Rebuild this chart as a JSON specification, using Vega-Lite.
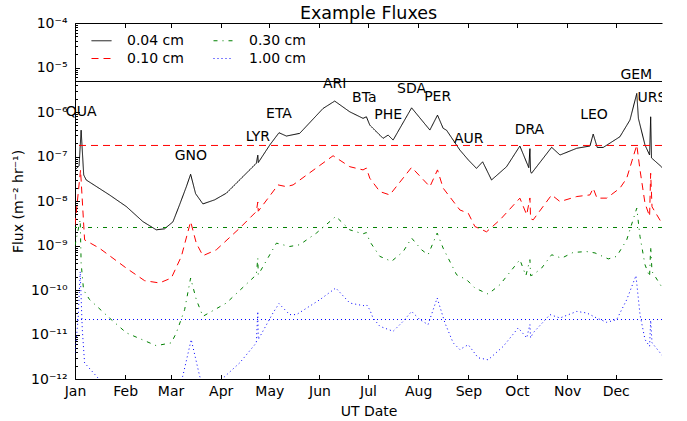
{
"$schema":"https://vega.github.io/schema/vega-lite/v6.json",
"width":587,"height":356,
"autosize":{"type":"none"},
"padding":{"left":75,"top":23,"right":25,"bottom":42},
"title":{"text":"Example Fluxes","fontSize":17.5,"fontWeight":"normal","font":"DejaVu Sans","color":"black","baseline":"bottom","offset":4,"dy":28},
"config":{"font":"DejaVu Sans","view":{"stroke":null},
 "axis":{"grid":false,"domainColor":"black","tickColor":"black","labelColor":"black","titleColor":"black","labelFontSize":14,"titleFontSize":14,"titleFontWeight":"normal","labelFont":"DejaVu Sans","titleFont":"DejaVu Sans","domainWidth":1,"tickWidth":1},
 "legend":{"orient":"none","legendX":16,"legendY":7,"columns":2,"symbolType":"stroke","symbolSize":400,"symbolStrokeWidth":1,"labelFontSize":14,"labelFont":"DejaVu Sans","labelColor":"black","labelOffset":15,"columnPadding":27,"rowPadding":-5,"padding":0}},
"datasets":{
"avg":[
{"s":"0.04 cm","a":4.85e-6},
{"s":"0.10 cm","a":1.77e-7},
{"s":"0.30 cm","a":2.54e-9},
{"s":"1.00 cm","a":2.17e-11}
],
"flux":[
{"t":"2017-01-01T00:00Z","s":"0.04 cm","f":5.0e-8},
{"t":"2017-01-03T12:00Z","s":"0.04 cm","f":6.1e-8},
{"t":"2017-01-04T19:00Z","s":"0.04 cm","f":3.9e-7},
{"t":"2017-01-06T09:00Z","s":"0.04 cm","f":3.85e-8},
{"t":"2017-01-07T22:00Z","s":"0.04 cm","f":2.97e-8},
{"t":"2017-01-22T07:00Z","s":"0.04 cm","f":1.37e-8},
{"t":"2017-02-01T17:00Z","s":"0.04 cm","f":7.5e-9},
{"t":"2017-02-11T22:00Z","s":"0.04 cm","f":3.45e-9},
{"t":"2017-02-20T05:00Z","s":"0.04 cm","f":2.25e-9},
{"t":"2017-02-25T07:00Z","s":"0.04 cm","f":2.37e-9},
{"t":"2017-03-02T12:00Z","s":"0.04 cm","f":3.4e-9},
{"t":"2017-03-06T14:00Z","s":"0.04 cm","f":8.2e-9},
{"t":"2017-03-10T19:00Z","s":"0.04 cm","f":2.1e-8},
{"t":"2017-03-13T10:00Z","s":"0.04 cm","f":3.99e-8},
{"t":"2017-03-16T12:00Z","s":"0.04 cm","f":1.46e-8},
{"t":"2017-03-21T00:00Z","s":"0.04 cm","f":8.6e-9},
{"t":"2017-03-28T05:00Z","s":"0.04 cm","f":1.06e-8},
{"t":"2017-04-04T12:00Z","s":"0.04 cm","f":1.5e-8},
{"t":"2017-04-23T00:00Z","s":"0.04 cm","f":7.05e-8},
{"t":"2017-04-23T22:00Z","s":"0.04 cm","f":1.07e-7},
{"t":"2017-04-24T05:00Z","s":"0.04 cm","f":7.3e-8},
{"t":"2017-05-01T07:00Z","s":"0.04 cm","f":1.81e-7},
{"t":"2017-05-07T00:00Z","s":"0.04 cm","f":3.42e-7},
{"t":"2017-05-11T14:00Z","s":"0.04 cm","f":2.88e-7},
{"t":"2017-05-19T19:00Z","s":"0.04 cm","f":3.31e-7},
{"t":"2017-06-03T05:00Z","s":"0.04 cm","f":1.2e-6},
{"t":"2017-06-10T10:00Z","s":"0.04 cm","f":1.76e-6},
{"t":"2017-06-19T17:00Z","s":"0.04 cm","f":1.01e-6},
{"t":"2017-06-27T22:00Z","s":"0.04 cm","f":7.2e-7},
{"t":"2017-06-30T00:00Z","s":"0.04 cm","f":7.8e-7},
{"t":"2017-07-02T02:00Z","s":"0.04 cm","f":5.08e-7},
{"t":"2017-07-10T07:00Z","s":"0.04 cm","f":2.56e-7},
{"t":"2017-07-13T10:00Z","s":"0.04 cm","f":3.03e-7},
{"t":"2017-07-16T12:00Z","s":"0.04 cm","f":2.34e-7},
{"t":"2017-07-27T22:00Z","s":"0.04 cm","f":1.24e-6},
{"t":"2017-08-08T05:00Z","s":"0.04 cm","f":3.93e-7},
{"t":"2017-08-12T22:00Z","s":"0.04 cm","f":8.5e-7},
{"t":"2017-08-16T10:00Z","s":"0.04 cm","f":4.29e-7},
{"t":"2017-08-18T12:00Z","s":"0.04 cm","f":3.9e-7},
{"t":"2017-08-26T17:00Z","s":"0.04 cm","f":1.4e-7},
{"t":"2017-08-31T22:00Z","s":"0.04 cm","f":8.4e-8},
{"t":"2017-09-06T00:00Z","s":"0.04 cm","f":5.4e-8},
{"t":"2017-09-09T19:00Z","s":"0.04 cm","f":7.6e-8},
{"t":"2017-09-15T07:00Z","s":"0.04 cm","f":2.97e-8},
{"t":"2017-09-24T14:00Z","s":"0.04 cm","f":5.9e-8},
{"t":"2017-10-02T19:00Z","s":"0.04 cm","f":1.72e-7},
{"t":"2017-10-08T07:00Z","s":"0.04 cm","f":5.6e-8},
{"t":"2017-10-09T00:00Z","s":"0.04 cm","f":1.5e-7},
{"t":"2017-10-09T10:00Z","s":"0.04 cm","f":4.6e-8},
{"t":"2017-10-10T00:00Z","s":"0.04 cm","f":4.2e-8},
{"t":"2017-10-22T10:00Z","s":"0.04 cm","f":1.61e-7},
{"t":"2017-10-27T14:00Z","s":"0.04 cm","f":1.08e-7},
{"t":"2017-11-06T22:00Z","s":"0.04 cm","f":1.53e-7},
{"t":"2017-11-15T02:00Z","s":"0.04 cm","f":1.72e-7},
{"t":"2017-11-17T02:00Z","s":"0.04 cm","f":3.19e-7},
{"t":"2017-11-19T14:00Z","s":"0.04 cm","f":1.6e-7},
{"t":"2017-11-23T07:00Z","s":"0.04 cm","f":1.6e-7},
{"t":"2017-12-03T14:00Z","s":"0.04 cm","f":2.78e-7},
{"t":"2017-12-09T19:00Z","s":"0.04 cm","f":6.6e-7},
{"t":"2017-12-14T00:00Z","s":"0.04 cm","f":2.61e-6},
{"t":"2017-12-15T00:00Z","s":"0.04 cm","f":7.2e-7},
{"t":"2017-12-19T02:00Z","s":"0.04 cm","f":1.81e-7},
{"t":"2017-12-21T22:00Z","s":"0.04 cm","f":1.08e-7},
{"t":"2017-12-22T14:00Z","s":"0.04 cm","f":7.8e-7},
{"t":"2017-12-23T02:00Z","s":"0.04 cm","f":9.3e-8},
{"t":"2017-12-29T10:00Z","s":"0.04 cm","f":5.8e-8},
{"t":"2017-12-31T00:00Z","s":"0.04 cm","f":5.0e-8},

{"t":"2017-01-01T00:00Z","s":"0.10 cm","f":2.9e-9},
{"t":"2017-01-04T10:00Z","s":"0.10 cm","f":5.0e-8},
{"t":"2017-01-06T22:00Z","s":"0.10 cm","f":1.34e-9},
{"t":"2017-01-16T02:00Z","s":"0.10 cm","f":8.7e-10},
{"t":"2017-02-01T17:00Z","s":"0.10 cm","f":3.1e-10},
{"t":"2017-02-13T00:00Z","s":"0.10 cm","f":1.62e-10},
{"t":"2017-02-22T05:00Z","s":"0.10 cm","f":1.44e-10},
{"t":"2017-03-01T12:00Z","s":"0.10 cm","f":1.86e-10},
{"t":"2017-03-07T17:00Z","s":"0.10 cm","f":5.7e-10},
{"t":"2017-03-13T10:00Z","s":"0.10 cm","f":3.45e-9},
{"t":"2017-03-16T22:00Z","s":"0.10 cm","f":1.13e-9},
{"t":"2017-03-21T00:00Z","s":"0.10 cm","f":5.9e-10},
{"t":"2017-03-29T07:00Z","s":"0.10 cm","f":8.0e-10},
{"t":"2017-04-12T17:00Z","s":"0.10 cm","f":2.45e-9},
{"t":"2017-04-23T00:00Z","s":"0.10 cm","f":5.8e-9},
{"t":"2017-04-23T22:00Z","s":"0.10 cm","f":9.5e-9},
{"t":"2017-04-24T05:00Z","s":"0.10 cm","f":5.9e-9},
{"t":"2017-05-06T10:00Z","s":"0.10 cm","f":2.3e-8},
{"t":"2017-05-11T14:00Z","s":"0.10 cm","f":2.1e-8},
{"t":"2017-05-15T17:00Z","s":"0.10 cm","f":2.3e-8},
{"t":"2017-06-09T10:00Z","s":"0.10 cm","f":1.04e-7},
{"t":"2017-06-19T17:00Z","s":"0.10 cm","f":5.9e-8},
{"t":"2017-06-27T22:00Z","s":"0.10 cm","f":5.0e-8},
{"t":"2017-06-30T00:00Z","s":"0.10 cm","f":5.5e-8},
{"t":"2017-07-02T02:00Z","s":"0.10 cm","f":3.25e-8},
{"t":"2017-07-08T07:00Z","s":"0.10 cm","f":1.63e-8},
{"t":"2017-07-14T10:00Z","s":"0.10 cm","f":1.37e-8},
{"t":"2017-07-27T22:00Z","s":"0.10 cm","f":5.7e-8},
{"t":"2017-08-08T05:00Z","s":"0.10 cm","f":2.1e-8},
{"t":"2017-08-12T22:00Z","s":"0.10 cm","f":5.0e-8},
{"t":"2017-08-16T10:00Z","s":"0.10 cm","f":1.94e-8},
{"t":"2017-08-26T17:00Z","s":"0.10 cm","f":6.3e-9},
{"t":"2017-08-31T22:00Z","s":"0.10 cm","f":5.3e-9},
{"t":"2017-09-05T00:00Z","s":"0.10 cm","f":2.67e-9},
{"t":"2017-09-12T05:00Z","s":"0.10 cm","f":2.03e-9},
{"t":"2017-09-20T12:00Z","s":"0.10 cm","f":3.77e-9},
{"t":"2017-10-02T19:00Z","s":"0.10 cm","f":1.16e-8},
{"t":"2017-10-07T00:00Z","s":"0.10 cm","f":4.9e-9},
{"t":"2017-10-09T00:00Z","s":"0.10 cm","f":1.17e-8},
{"t":"2017-10-09T10:00Z","s":"0.10 cm","f":4.0e-9},
{"t":"2017-10-11T00:00Z","s":"0.10 cm","f":3.77e-9},
{"t":"2017-10-22T10:00Z","s":"0.10 cm","f":1.37e-8},
{"t":"2017-10-27T14:00Z","s":"0.10 cm","f":9.7e-9},
{"t":"2017-11-06T22:00Z","s":"0.10 cm","f":1.26e-8},
{"t":"2017-11-15T02:00Z","s":"0.10 cm","f":1.37e-8},
{"t":"2017-11-17T02:00Z","s":"0.10 cm","f":1.94e-8},
{"t":"2017-11-19T10:00Z","s":"0.10 cm","f":1.16e-8},
{"t":"2017-11-25T10:00Z","s":"0.10 cm","f":1.16e-8},
{"t":"2017-12-03T14:00Z","s":"0.10 cm","f":1.94e-8},
{"t":"2017-12-07T19:00Z","s":"0.10 cm","f":3.25e-8},
{"t":"2017-12-14T00:00Z","s":"0.10 cm","f":1.81e-7},
{"t":"2017-12-16T00:00Z","s":"0.10 cm","f":5.0e-8},
{"t":"2017-12-19T02:00Z","s":"0.10 cm","f":8.9e-9},
{"t":"2017-12-21T22:00Z","s":"0.10 cm","f":4.5e-9},
{"t":"2017-12-22T14:00Z","s":"0.10 cm","f":4.2e-8},
{"t":"2017-12-23T10:00Z","s":"0.10 cm","f":7.4e-9},
{"t":"2017-12-29T10:00Z","s":"0.10 cm","f":3.2e-9},
{"t":"2017-12-31T00:00Z","s":"0.10 cm","f":2.8e-9},

{"t":"2017-01-01T00:00Z","s":"0.30 cm","f":1.0e-9},
{"t":"2017-01-04T05:00Z","s":"0.30 cm","f":3.8e-9},
{"t":"2017-01-04T19:00Z","s":"0.30 cm","f":4.0e-10},
{"t":"2017-01-06T07:00Z","s":"0.30 cm","f":1.0e-10},
{"t":"2017-01-10T00:00Z","s":"0.30 cm","f":6.1e-11},
{"t":"2017-01-22T07:00Z","s":"0.30 cm","f":2.35e-11},
{"t":"2017-02-01T17:00Z","s":"0.30 cm","f":1.09e-11},
{"t":"2017-02-20T05:00Z","s":"0.30 cm","f":5.6e-12},
{"t":"2017-03-01T12:00Z","s":"0.30 cm","f":6.5e-12},
{"t":"2017-03-04T14:00Z","s":"0.30 cm","f":1.09e-11},
{"t":"2017-03-09T17:00Z","s":"0.30 cm","f":3.6e-11},
{"t":"2017-03-13T10:00Z","s":"0.30 cm","f":1.86e-10},
{"t":"2017-03-16T22:00Z","s":"0.30 cm","f":6.1e-11},
{"t":"2017-03-21T00:00Z","s":"0.30 cm","f":2.56e-11},
{"t":"2017-04-04T12:00Z","s":"0.30 cm","f":5.1e-11},
{"t":"2017-04-23T00:00Z","s":"0.30 cm","f":2.2e-10},
{"t":"2017-04-23T22:00Z","s":"0.30 cm","f":5.2e-10},
{"t":"2017-04-24T05:00Z","s":"0.30 cm","f":2.2e-10},
{"t":"2017-05-05T10:00Z","s":"0.30 cm","f":1.13e-9},
{"t":"2017-05-13T14:00Z","s":"0.30 cm","f":9.5e-10},
{"t":"2017-05-19T19:00Z","s":"0.30 cm","f":1.04e-9},
{"t":"2017-05-30T02:00Z","s":"0.30 cm","f":1.9e-9},
{"t":"2017-06-11T02:00Z","s":"0.30 cm","f":4.5e-9},
{"t":"2017-06-19T17:00Z","s":"0.30 cm","f":2.25e-9},
{"t":"2017-06-27T22:00Z","s":"0.30 cm","f":1.83e-9},
{"t":"2017-06-30T00:00Z","s":"0.30 cm","f":1.95e-9},
{"t":"2017-07-02T02:00Z","s":"0.30 cm","f":1.23e-9},
{"t":"2017-07-08T07:00Z","s":"0.30 cm","f":5.7e-10},
{"t":"2017-07-15T12:00Z","s":"0.30 cm","f":4.4e-10},
{"t":"2017-07-22T17:00Z","s":"0.30 cm","f":7.3e-10},
{"t":"2017-07-27T22:00Z","s":"0.30 cm","f":1.47e-9},
{"t":"2017-08-03T02:00Z","s":"0.30 cm","f":8.0e-10},
{"t":"2017-08-07T02:00Z","s":"0.30 cm","f":6.2e-10},
{"t":"2017-08-12T17:00Z","s":"0.30 cm","f":1.9e-9},
{"t":"2017-08-16T10:00Z","s":"0.30 cm","f":8.7e-10},
{"t":"2017-08-24T17:00Z","s":"0.30 cm","f":2.2e-10},
{"t":"2017-08-30T22:00Z","s":"0.30 cm","f":1.7e-10},
{"t":"2017-09-05T00:00Z","s":"0.30 cm","f":1.11e-10},
{"t":"2017-09-13T05:00Z","s":"0.30 cm","f":8.1e-11},
{"t":"2017-09-20T12:00Z","s":"0.30 cm","f":1.32e-10},
{"t":"2017-10-02T19:00Z","s":"0.30 cm","f":4.8e-10},
{"t":"2017-10-06T12:00Z","s":"0.30 cm","f":2.1e-10},
{"t":"2017-10-09T00:00Z","s":"0.30 cm","f":4.8e-10},
{"t":"2017-10-09T10:00Z","s":"0.30 cm","f":2.1e-10},
{"t":"2017-10-11T00:00Z","s":"0.30 cm","f":2.2e-10},
{"t":"2017-10-16T05:00Z","s":"0.30 cm","f":3.1e-10},
{"t":"2017-10-22T10:00Z","s":"0.30 cm","f":6.2e-10},
{"t":"2017-10-28T14:00Z","s":"0.30 cm","f":5.2e-10},
{"t":"2017-11-04T19:00Z","s":"0.30 cm","f":7.0e-10},
{"t":"2017-11-13T02:00Z","s":"0.30 cm","f":7.3e-10},
{"t":"2017-11-18T05:00Z","s":"0.30 cm","f":6.8e-10},
{"t":"2017-11-26T10:00Z","s":"0.30 cm","f":5.0e-10},
{"t":"2017-12-01T14:00Z","s":"0.30 cm","f":5.7e-10},
{"t":"2017-12-07T19:00Z","s":"0.30 cm","f":1.34e-9},
{"t":"2017-12-14T00:00Z","s":"0.30 cm","f":6.9e-9},
{"t":"2017-12-16T00:00Z","s":"0.30 cm","f":1.59e-9},
{"t":"2017-12-19T02:00Z","s":"0.30 cm","f":3.7e-10},
{"t":"2017-12-21T22:00Z","s":"0.30 cm","f":2.0e-10},
{"t":"2017-12-22T14:00Z","s":"0.30 cm","f":9.5e-10},
{"t":"2017-12-23T10:00Z","s":"0.30 cm","f":2.6e-10},
{"t":"2017-12-29T10:00Z","s":"0.30 cm","f":1.17e-10},
{"t":"2017-12-31T00:00Z","s":"0.30 cm","f":1.0e-10},

{"t":"2017-01-01T00:00Z","s":"1.00 cm","f":3.9e-12},
{"t":"2017-01-02T22:00Z","s":"1.00 cm","f":2.2e-11},
{"t":"2017-01-04T05:00Z","s":"1.00 cm","f":2.6e-10},
{"t":"2017-01-05T12:00Z","s":"1.00 cm","f":1.3e-11},
{"t":"2017-01-06T22:00Z","s":"1.00 cm","f":2.3e-12},
{"t":"2017-01-16T02:00Z","s":"1.00 cm","f":9.7e-13},
{"t":"2017-01-26T00:00Z","s":"1.00 cm","f":4e-13},
{"t":"2017-02-15T00:00Z","s":"1.00 cm","f":2.5e-13},
{"t":"2017-03-04T00:00Z","s":"1.00 cm","f":5e-13},
{"t":"2017-03-08T14:00Z","s":"1.00 cm","f":1.16e-12},
{"t":"2017-03-13T19:00Z","s":"1.00 cm","f":7.7e-12},
{"t":"2017-03-19T00:00Z","s":"1.00 cm","f":1.16e-12},
{"t":"2017-03-22T00:00Z","s":"1.00 cm","f":6e-13},
{"t":"2017-03-30T00:00Z","s":"1.00 cm","f":6e-13},
{"t":"2017-04-01T10:00Z","s":"1.00 cm","f":9.7e-13},
{"t":"2017-04-12T17:00Z","s":"1.00 cm","f":2.3e-12},
{"t":"2017-04-23T00:00Z","s":"1.00 cm","f":6.5e-12},
{"t":"2017-04-23T22:00Z","s":"1.00 cm","f":3.3e-11},
{"t":"2017-04-24T05:00Z","s":"1.00 cm","f":7.7e-12},
{"t":"2017-05-03T07:00Z","s":"1.00 cm","f":3.05e-11},
{"t":"2017-05-07T00:00Z","s":"1.00 cm","f":4.93e-11},
{"t":"2017-05-13T14:00Z","s":"1.00 cm","f":2.8e-11},
{"t":"2017-05-17T19:00Z","s":"1.00 cm","f":2.8e-11},
{"t":"2017-06-01T05:00Z","s":"1.00 cm","f":6.05e-11},
{"t":"2017-06-11T02:00Z","s":"1.00 cm","f":1.11e-10},
{"t":"2017-06-19T17:00Z","s":"1.00 cm","f":5.1e-11},
{"t":"2017-06-28T00:00Z","s":"1.00 cm","f":4.45e-11},
{"t":"2017-06-30T00:00Z","s":"1.00 cm","f":4.7e-11},
{"t":"2017-07-02T02:00Z","s":"1.00 cm","f":3.6e-11},
{"t":"2017-07-04T02:00Z","s":"1.00 cm","f":2.35e-11},
{"t":"2017-07-08T07:00Z","s":"1.00 cm","f":1.53e-11},
{"t":"2017-07-16T12:00Z","s":"1.00 cm","f":1.18e-11},
{"t":"2017-07-22T17:00Z","s":"1.00 cm","f":1.98e-11},
{"t":"2017-07-27T22:00Z","s":"1.00 cm","f":3.3e-11},
{"t":"2017-08-02T00:00Z","s":"1.00 cm","f":2.16e-11},
{"t":"2017-08-07T02:00Z","s":"1.00 cm","f":1.67e-11},
{"t":"2017-08-12T17:00Z","s":"1.00 cm","f":6.6e-11},
{"t":"2017-08-17T12:00Z","s":"1.00 cm","f":1.82e-11},
{"t":"2017-08-22T14:00Z","s":"1.00 cm","f":6.5e-12},
{"t":"2017-08-26T17:00Z","s":"1.00 cm","f":4.6e-12},
{"t":"2017-08-31T22:00Z","s":"1.00 cm","f":5.9e-12},
{"t":"2017-09-07T00:00Z","s":"1.00 cm","f":3.0e-12},
{"t":"2017-09-13T05:00Z","s":"1.00 cm","f":2.7e-12},
{"t":"2017-09-22T12:00Z","s":"1.00 cm","f":5.4e-12},
{"t":"2017-10-01T19:00Z","s":"1.00 cm","f":1.41e-11},
{"t":"2017-10-07T00:00Z","s":"1.00 cm","f":8.4e-12},
{"t":"2017-10-09T00:00Z","s":"1.00 cm","f":1.67e-11},
{"t":"2017-10-09T10:00Z","s":"1.00 cm","f":8.4e-12},
{"t":"2017-10-11T00:00Z","s":"1.00 cm","f":1.09e-11},
{"t":"2017-10-21T10:00Z","s":"1.00 cm","f":2.8e-11},
{"t":"2017-10-27T14:00Z","s":"1.00 cm","f":2.35e-11},
{"t":"2017-11-06T22:00Z","s":"1.00 cm","f":3.3e-11},
{"t":"2017-11-13T02:00Z","s":"1.00 cm","f":3.05e-11},
{"t":"2017-11-19T05:00Z","s":"1.00 cm","f":2.35e-11},
{"t":"2017-11-25T10:00Z","s":"1.00 cm","f":1.88e-11},
{"t":"2017-12-01T14:00Z","s":"1.00 cm","f":2.16e-11},
{"t":"2017-12-07T19:00Z","s":"1.00 cm","f":6.05e-11},
{"t":"2017-12-13T12:00Z","s":"1.00 cm","f":2.1e-10},
{"t":"2017-12-16T00:00Z","s":"1.00 cm","f":2.8e-11},
{"t":"2017-12-19T02:00Z","s":"1.00 cm","f":7.7e-12},
{"t":"2017-12-21T22:00Z","s":"1.00 cm","f":5.4e-12},
{"t":"2017-12-22T14:00Z","s":"1.00 cm","f":2.08e-11},
{"t":"2017-12-23T10:00Z","s":"1.00 cm","f":6.5e-12},
{"t":"2017-12-29T10:00Z","s":"1.00 cm","f":3.5e-12},
{"t":"2017-12-31T00:00Z","s":"1.00 cm","f":3.0e-12}
],
"labels":[
{"n":"QUA","t":"2017-01-04T19:00Z","f":1.0e-6},
{"n":"GNO","t":"2017-03-13T14:00Z","f":1.03e-7},
{"n":"LYR","t":"2017-04-23T22:00Z","f":2.8e-7},
{"n":"ETA","t":"2017-05-07T00:00Z","f":9.0e-7},
{"n":"ARI","t":"2017-06-10T10:00Z","f":4.35e-6},
{"n":"BTa","t":"2017-06-28T17:00Z","f":2.02e-6},
{"n":"PHE","t":"2017-07-13T10:00Z","f":8.5e-7},
{"n":"SDA","t":"2017-07-27T22:00Z","f":3.26e-6},
{"n":"PER","t":"2017-08-13T00:00Z","f":2.19e-6},
{"n":"AUR","t":"2017-09-01T05:00Z","f":2.48e-7},
{"n":"DRA","t":"2017-10-08T17:00Z","f":3.93e-7},
{"n":"LEO","t":"2017-11-17T14:00Z","f":8.5e-7},
{"n":"GEM","t":"2017-12-13T17:00Z","f":6.7e-6}
],
"urs":[
{"n":"URS","t":"2017-12-23T10:00Z","f":2.02e-6}
]
},
"resolve":{"axis":{"x":"independent","y":"independent"}},
"layer":[
{
"data":{"name":"flux"},
"mark":{"type":"line","strokeWidth":1,"clip":true},
"encoding":{
 "x":{"field":"t","type":"temporal","scale":{"type":"utc","domain":[{"year":2017,"month":1,"date":1,"utc":true},{"year":2017,"month":12,"date":29,"hours":14,"utc":true}]},
  "axis":{"orient":"bottom","tickCount":{"interval":"month","step":1},"format":"%b","tickSize":-4.5,"labelPadding":9.5,"labelFlush":false,"labelOverlap":false,"title":"UT Date","titlePadding":6}},
 "y":{"field":"f","type":"quantitative","scale":{"type":"log","domain":[1e-12,1e-4],"nice":false},
  "axis":{"orient":"left","values":[1e-12,1e-11,1e-10,1e-9,1e-8,1e-7,1e-6,1e-5,1e-4],"tickSize":-4.5,"labelPadding":12.5,
   "labelExpr":"['10⁻⁴','10⁻⁵','10⁻⁶','10⁻⁷','10⁻⁸','10⁻⁹','10⁻¹⁰','10⁻¹¹','10⁻¹²'][round(-log(datum.value)/LN10)-4]",
   "title":"Flux (m⁻² hr⁻¹)","titlePadding":5}},
 "color":{"field":"s","type":"nominal","title":null,"scale":{"domain":["0.04 cm","0.10 cm","0.30 cm","1.00 cm"],"range":["#000000","#ff0000","#008000","#0000ff"]}},
 "strokeDash":{"field":"s","type":"nominal","title":null,"scale":{"domain":["0.04 cm","0.10 cm","0.30 cm","1.00 cm"],"range":[[1,0],[7,5],[4,5,1,5],[1,3]]}}
}
},
{
"data":{"name":"flux"},
"mark":{"type":"line","opacity":0},
"encoding":{
 "x":{"field":"t","type":"temporal","axis":{"orient":"top","tickCount":{"interval":"month","step":1},"labels":false,"tickSize":-4.5,"title":null}},
 "y":{"field":"f","type":"quantitative",
  "axis":{"orient":"left","values":[2e-12,3e-12,4e-12,5e-12,6e-12,7e-12,8e-12,9e-12,2e-11,3e-11,4e-11,5e-11,6e-11,7e-11,8e-11,9e-11,2e-10,3e-10,4e-10,5e-10,6e-10,7e-10,8e-10,9e-10,2e-9,3e-9,4e-9,5e-9,6e-9,7e-9,8e-9,9e-9,2e-8,3e-8,4e-8,5e-8,6e-8,7e-8,8e-8,9e-8,2e-7,3e-7,4e-7,5e-7,6e-7,7e-7,8e-7,9e-7,2e-6,3e-6,4e-6,5e-6,6e-6,7e-6,8e-6,9e-6,2e-5,3e-5,4e-5,5e-5,6e-5,7e-5,8e-5,9e-5],"tickSize":-2.5,"labels":false,"domain":false,"title":null}}
}
},
{
"data":{"name":"avg"},
"transform":[{"filter":"datum.s == '0.04 cm'"}],
"mark":{"type":"rule","stroke":"#000000","strokeWidth":1},
"encoding":{"y":{"field":"a","type":"quantitative","axis":null}}
},
{
"data":{"name":"avg"},
"transform":[{"filter":"datum.s == '0.10 cm'"}],
"mark":{"type":"rule","stroke":"#ff0000","strokeDash":[7,5],"strokeWidth":1},
"encoding":{"y":{"field":"a","type":"quantitative","axis":null}}
},
{
"data":{"name":"avg"},
"transform":[{"filter":"datum.s == '0.30 cm'"}],
"mark":{"type":"rule","stroke":"#008000","strokeDash":[4,5,1,5],"strokeWidth":1},
"encoding":{"y":{"field":"a","type":"quantitative","axis":null}}
},
{
"data":{"name":"avg"},
"transform":[{"filter":"datum.s == '1.00 cm'"}],
"mark":{"type":"rule","stroke":"#0000ff","strokeDash":[1,3],"strokeWidth":1},
"encoding":{"y":{"field":"a","type":"quantitative","axis":null}}
},
{
"data":{"name":"labels"},
"mark":{"type":"text","fontSize":14,"font":"DejaVu Sans","color":"black","align":"center","baseline":"middle"},
"encoding":{
 "x":{"field":"t","type":"temporal","axis":null},
 "y":{"field":"f","type":"quantitative","axis":null},
 "text":{"field":"n"}
}
},
{
"data":{"name":"urs"},
"mark":{"type":"text","fontSize":14,"font":"DejaVu Sans","color":"black","align":"center","baseline":"middle","clip":true},
"encoding":{
 "x":{"field":"t","type":"temporal","axis":null},
 "y":{"field":"f","type":"quantitative","axis":null},
 "text":{"field":"n"}
}
}
]
}
